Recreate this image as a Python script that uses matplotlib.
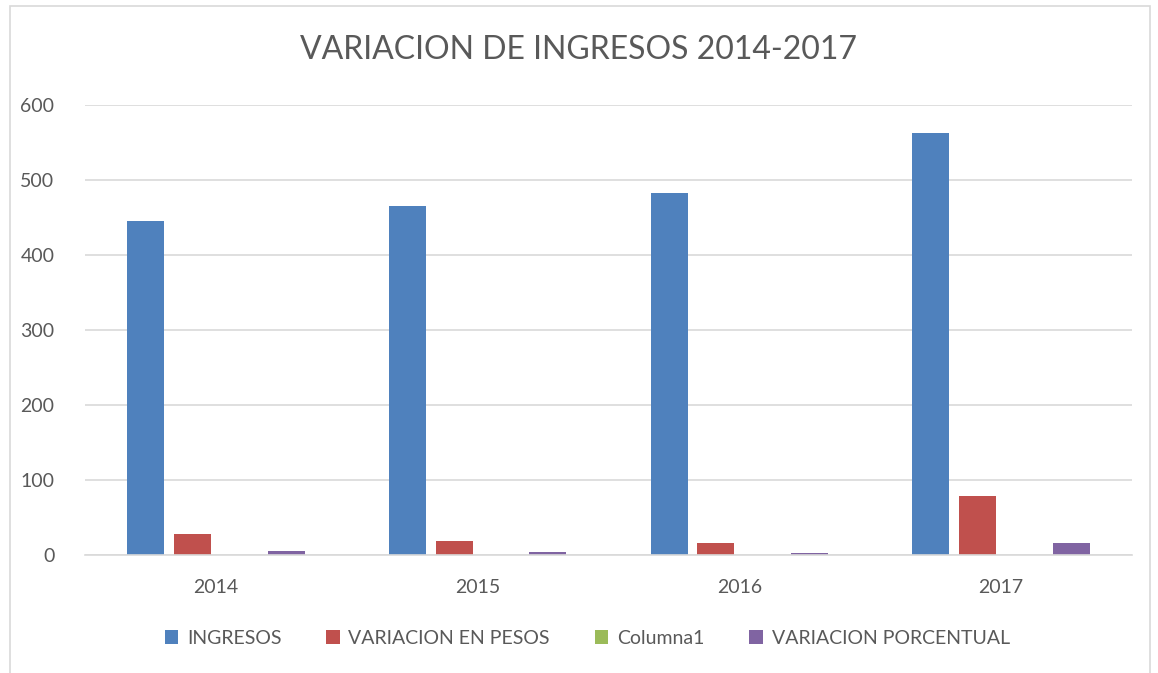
import numpy as np
import matplotlib.pyplot as plt
from matplotlib.patches import Rectangle

# data
years = ['2014', '2015', '2016', '2017']
ingresos = [446, 466, 483, 563]
variacion_pesos = [28, 19, 16, 79]
columna1 = [0, 0, 0, 0]
variacion_pct = [6, 3.5, 3, 16]

series = [
    ('INGRESOS', ingresos, '#4F81BD'),
    ('VARIACION EN PESOS', variacion_pesos, '#C0504D'),
    ('Columna1', columna1, '#9BBB59'),
    ('VARIACION PORCENTUAL', variacion_pct, '#8064A2'),
]

plt.rcParams['font.family'] = ['Lato', 'DejaVu Sans']
text_col = '#595959'
grid_col = '#D9D9D9'

fig = plt.figure(figsize=(11.58, 6.73), dpi=100)
ax = fig.add_axes([85 / 1158, 1 - 555 / 673, 1047 / 1158, 450 / 673])

x = np.arange(len(years))
step = 0.179
width = 0.141
for i, (name, vals, col) in enumerate(series):
    ax.bar(x + (i - 1.5) * step, vals, width=width, color=col, label=name)

ax.set_xlim(-0.5, 3.5)
ax.set_ylim(0, 600)
ax.set_yticks(range(0, 601, 100))
ax.set_xticks(x)
ax.set_xticklabels(years)
ax.yaxis.grid(True, color=grid_col, linewidth=1.2)
ax.set_axisbelow(True)
for s in ['top', 'right', 'left']:
    ax.spines[s].set_visible(False)
ax.spines['bottom'].set_color(grid_col)
ax.spines['bottom'].set_linewidth(1.2)
ax.tick_params(length=0, labelsize=14, colors=text_col)
ax.tick_params(axis='x', pad=17)
ax.tick_params(axis='y', pad=22)

fig.text(0.5, 1 - 50 / 673, 'VARIACION DE INGRESOS 2014-2017', ha='center', va='center',
         fontsize=23, color=text_col)

fig.legend(loc='center', bbox_to_anchor=(0.507, 1 - 638 / 673), ncol=4, frameon=False,
           fontsize=14, labelcolor=text_col, handlelength=0.7, handleheight=0.7,
           handletextpad=0.45, columnspacing=2.3)

# outer chart frame
fig.add_artist(Rectangle((10 / 1158, -0.02), 1140 / 1158, 1.02 - 6 / 673,
                         transform=fig.transFigure, fill=False, edgecolor=grid_col, linewidth=1.2))

fig.savefig('out.png', dpi=100)
